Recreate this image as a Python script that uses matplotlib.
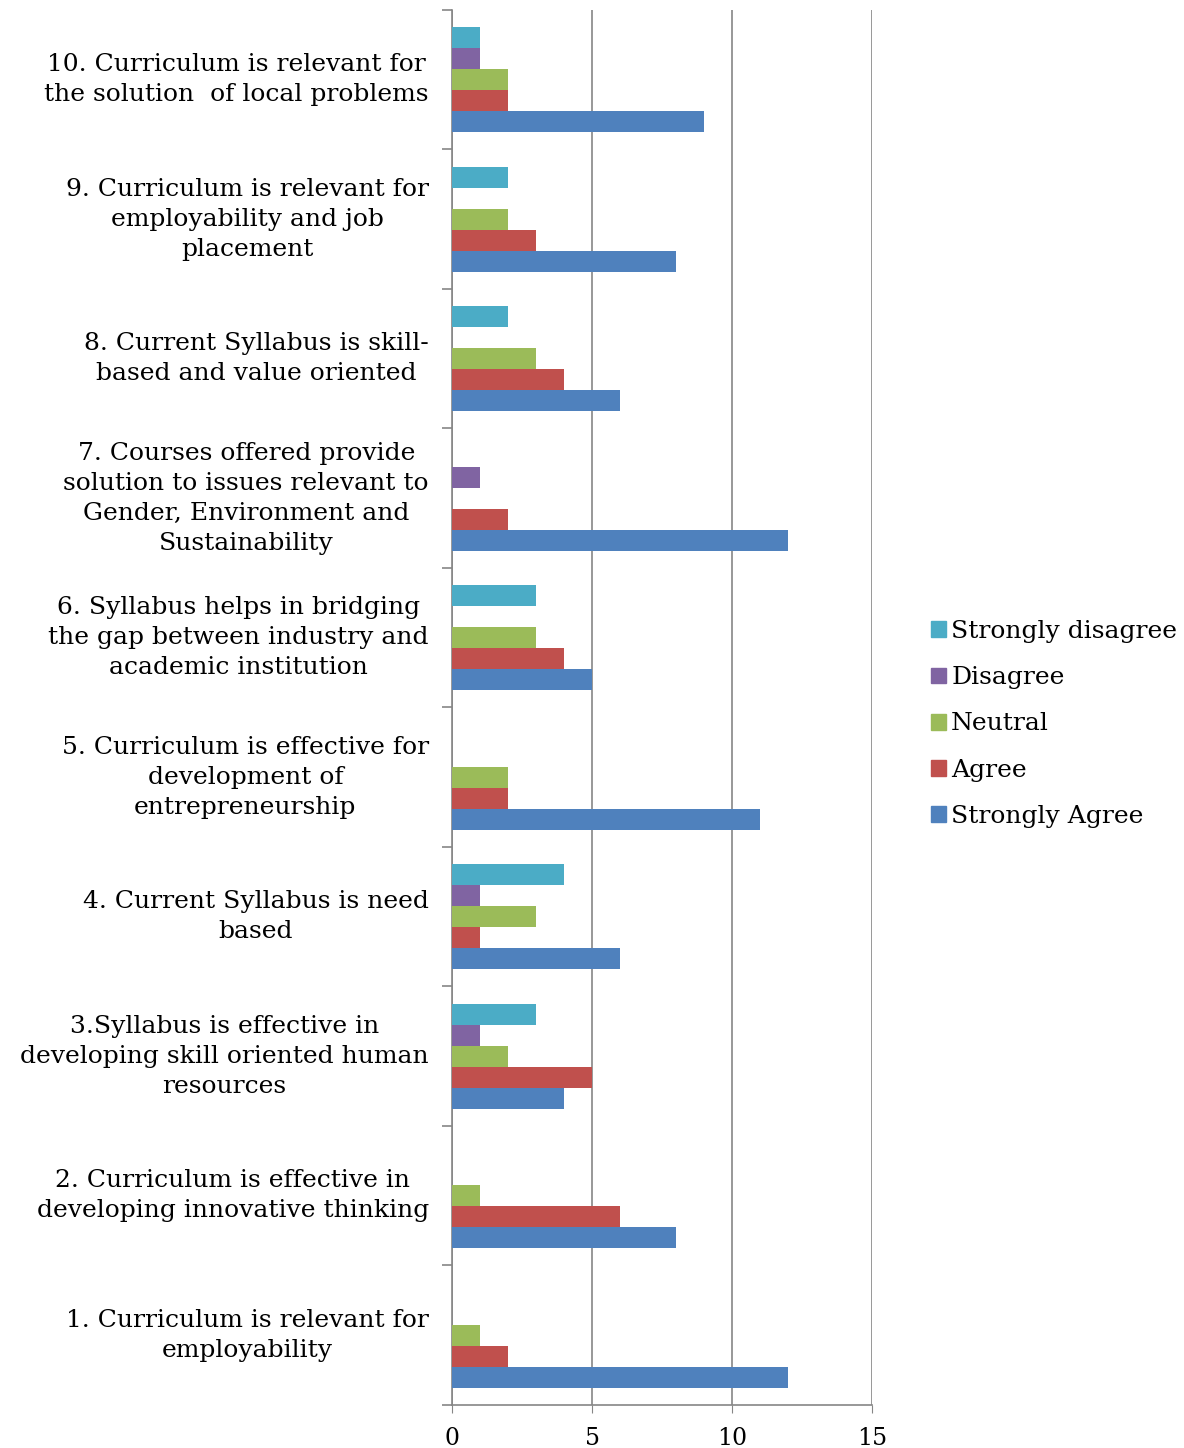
import matplotlib
matplotlib.use("Agg")
import matplotlib.pyplot as plt
import numpy as np
from matplotlib.patches import Patch

plt.rcParams['font.family'] = ['DejaVu Serif']

# statements, bottom (1) to top (10)
statements = [
    "1. Curriculum is relevant for\nemployability",
    "2. Curriculum is effective in\ndeveloping innovative thinking",
    "3.Syllabus is effective in\ndeveloping skill oriented human\nresources",
    "4. Current Syllabus is need\nbased",
    "5. Curriculum is effective for\ndevelopment of\nentrepreneurship",
    "6. Syllabus helps in bridging\nthe gap between industry and\nacademic institution",
    "7. Courses offered provide\nsolution to issues relevant to\nGender, Environment and\nSustainability",
    "8. Current Syllabus is skill-\nbased and value oriented",
    "9. Curriculum is relevant for\nemployability and job\nplacement",
    "10. Curriculum is relevant for\nthe solution  of local problems",
]

strongly_agree = [12, 8, 4, 6, 11, 5, 12, 6, 8, 9]
agree = [2, 6, 5, 1, 2, 4, 2, 4, 3, 2]
neutral = [1, 1, 2, 3, 2, 3, 0, 3, 2, 2]
disagree = [0, 0, 1, 1, 0, 0, 1, 0, 0, 1]
strongly_disagree = [0, 0, 3, 4, 0, 3, 0, 2, 2, 1]

series = [
    ("Strongly Agree", strongly_agree, "#4F81BD"),
    ("Agree", agree, "#C0504D"),
    ("Neutral", neutral, "#9BBB59"),
    ("Disagree", disagree, "#8064A2"),
    ("Strongly disagree", strongly_disagree, "#4BACC6"),
]

fig = plt.figure(figsize=(11.84, 14.48), dpi=100)
ax = fig.add_axes([0.3818, 0.0297, 0.3547, 0.9634])

y = np.arange(len(statements))
h = 0.15
for i, (name, vals, col) in enumerate(series):
    ax.barh(y + (i - 2) * h, vals, height=h, color=col, label=name,
            linewidth=0, zorder=3)

ax.set_xlim(0, 15)
ax.set_ylim(-0.5, len(statements) - 0.5)
ax.set_xticks([0, 5, 10, 15])
ax.tick_params(axis="x", labelsize=17, length=6, color="#868686", pad=10)

ax.set_yticks(y)
ax.set_yticklabels([])
ax.set_yticks(np.arange(-0.5, len(statements), 1), minor=True)
ax.tick_params(axis="y", which="major", length=0)
ax.tick_params(axis="y", which="minor", length=7, color="#868686", width=1.2)

# category labels: block right-aligned next to the axis, lines centred
for yi, txt in zip(y, statements):
    ax.text(-0.055, yi, txt, ha="right", va="center", fontsize=18,
            multialignment="center", transform=ax.get_yaxis_transform(),
            linespacing=1.38)

ax.grid(axis="x", color="#868686", linewidth=1.2, zorder=0)
for s in ["top", "right"]:
    ax.spines[s].set_visible(False)
for s in ["left", "bottom"]:
    ax.spines[s].set_color("#868686")
    ax.spines[s].set_linewidth(1.2)

handles = [Patch(color=c, label=n) for n, _, c in series[::-1]]
fig.legend(handles=handles, loc="center left", bbox_to_anchor=(0.778, 0.5),
           frameon=False, fontsize=18, handlelength=0.6, handleheight=0.6,
           handletextpad=0.2, labelspacing=0.93, borderaxespad=0)

fig.savefig("out.png", dpi=100)
